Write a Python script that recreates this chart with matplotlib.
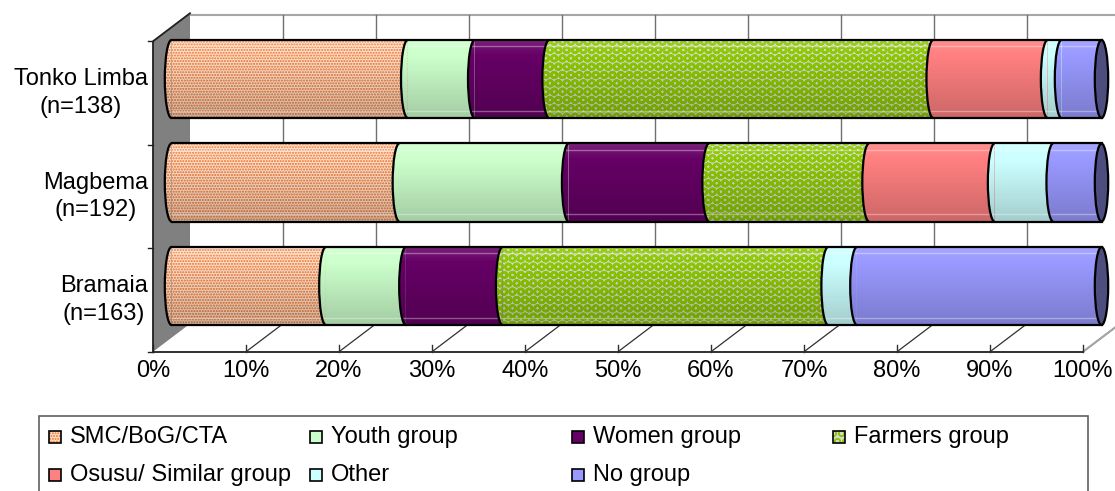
import numpy as np
import matplotlib as mpl
import matplotlib.pyplot as plt
from matplotlib.patches import Polygon, Rectangle, Ellipse, Arc

plt.rcParams['font.family'] = ['Liberation Sans', 'DejaVu Sans']

# data (percent of respondents), bottom row first
districts = ['Bramaia\n(n=163)', 'Magbema\n(n=192)', 'Tonko Limba\n(n=138)']
groups = ['SMC/BoG/CTA', 'Youth group', 'Women group', 'Farmers group',
          'Osusu/ Similar group', 'Other', 'No group']
bramaia = [16.6, 8.6, 10.4, 35.0, 0.0, 3.1, 26.3]
magbema = [24.5, 18.2, 15.1, 17.2, 13.5, 6.3, 5.2]
tonko = [25.4, 7.2, 8.0, 41.3, 12.3, 1.5, 4.3]
ticks = [0, 10, 20, 30, 40, 50, 60, 70, 80, 90, 100]
tick_labels = ['0%', '10%', '20%', '30%', '40%', '50%', '60%', '70%', '80%', '90%', '100%']

faces = ['#fde2cf', '#ccffcc', '#660066', '#d6d6d6', '#ff8080', '#ccffff', '#9999ff']
hatches = ['......', None, None, 'OO', None, None, None]
hatch_cols = ['#ee6c22', 'none', 'none', '#8cc800', 'none', 'none', 'none']
hatch_lw = [1.0, 1.0, 1.0, 1.8, 1.0, 1.0, 1.0]
cap_col = '#4d4d80'

vals = np.array([bramaia, magbema, tonko])
rows = np.arange(len(districts))

# pixel layout of the picture -> data units (x in %, y in rows)
PX, X0 = 9.3, 171.5
PY, Y0 = 103.5, 286.0
def X(px):
    return (px - X0) / PX
def Y(py):
    return (Y0 - py) / PY

DX, DY = 18.5 / PX, 14.0 / PY   # depth offset (front/back)
H = 0.754                        # bar thickness
RX = 0.72                        # half width of the cylinder ends

fig = plt.figure(figsize=(11.15, 4.91), dpi=100)
ax = fig.add_axes([0, 0, 1, 1])
ax.axis('off')

# back wall + gridlines
ax.add_patch(Rectangle((DX, -0.5 + DY), 100, 3, facecolor='white', edgecolor='none', zorder=0))
ax.plot([DX, 100 + DX], [2.5 + DY - 0.02] * 2, color='#a6a6a6', lw=1.5, zorder=1)
for t in ticks[1:]:
    ax.plot([t + DX, t + DX], [-0.5 + DY, 2.5 + DY - 0.02], color='#707070', lw=1, zorder=1)

# floor
for t in ticks[1:]:
    ax.plot([t - DX, t + DX], [-0.5 - DY, -0.5 + DY], color='#303030', lw=0.9, zorder=1)
ax.plot([100 - DX, 100 + DX], [-0.5 - DY, -0.5 + DY], color='#a6a6a6', lw=1.5, zorder=1)
ax.plot([-DX, 100 - DX], [-0.5 - DY, -0.5 - DY], color='#303030', lw=1.4, zorder=2)
for t in ticks:
    ax.plot([t - DX, t - DX], [-0.5 - DY, -0.5 - DY + 0.065], color='#303030', lw=1, zorder=2)

# left wall
ax.add_patch(Polygon([(-DX, -0.5 - DY), (-DX, 2.5 - DY), (DX, 2.5 + DY), (DX, -0.5 + DY)],
                     closed=True, facecolor='#808080', edgecolor='none', zorder=1))
ax.plot([DX, -DX, -DX], [2.5 + DY, 2.5 - DY, -0.5 - DY], color='#202020', lw=1.3, zorder=2)
for k in range(4):
    ax.plot([-DX - 0.55, -DX], [k - 0.5 - DY] * 2, color='#202020', lw=1, zorder=2)

# stacked cylinders
t_left = np.linspace(np.pi / 2, 3 * np.pi / 2, 40)
t_right = np.linspace(-np.pi / 2, np.pi / 2, 40)
lefts = np.zeros(len(rows))
for g in range(len(groups)):
    w = vals[:, g]
    with mpl.rc_context({'hatch.linewidth': hatch_lw[g]}):
        ax.barh(rows, w, left=lefts, height=H, color=faces[g], hatch=hatches[g],
                edgecolor=hatch_cols[g], lw=0, zorder=3)
        for r in rows:
            if w[r] <= 0:
                continue
            xs = lefts[r] + RX * np.cos(t_left)
            ys = r + H / 2 * np.sin(t_left)
            ax.add_patch(Polygon(np.column_stack([xs, ys]), closed=True, facecolor=faces[g],
                                 hatch=hatches[g], edgecolor=hatch_cols[g], lw=0, zorder=3))
    for r in rows:
        if w[r] > 0:
            ax.add_patch(Arc((lefts[r], r), 2 * RX, H, theta1=90, theta2=270,
                             color='black', lw=1.6, zorder=6))
    lefts = lefts + w

# shading: light band near the top, darker towards the bottom
n = 80
a = np.linspace(0, 1, n)
grad = np.zeros((n, 4, 4))
light = a < 0.2
grad[light, :, :3] = 1.0
grad[:, :, 3] = np.where(light, 0.14 * (1 - a / 0.2), 0.2 * (a - 0.2) / 0.8)[:, None]
for r in rows:
    sil = np.column_stack([
        np.concatenate([RX * np.cos(t_left), 100 + RX * np.cos(t_right)]),
        np.concatenate([r + H / 2 * np.sin(t_left), r + H / 2 * np.sin(t_right)])])
    clip = Polygon(sil, closed=True, transform=ax.transData)
    im = ax.imshow(grad, extent=[-1, 101, r - H / 2, r + H / 2], aspect='auto',
                   interpolation='nearest', origin='upper', zorder=4)
    im.set_clip_path(clip)
    ax.plot([0, 100], [r + H / 2 - 0.06] * 2, color='white', alpha=0.35, lw=1, zorder=5)
    ax.plot([0, 100], [r - H / 2 + 0.07] * 2, color='white', alpha=0.35, lw=1, zorder=5)
    ax.plot([0, 100], [r + H / 2] * 2, color='black', lw=1.6, zorder=6)
    ax.plot([0, 100], [r - H / 2] * 2, color='black', lw=1.6, zorder=6)
    ax.add_patch(Ellipse((100, r), 2 * RX, H, facecolor=cap_col, edgecolor='black',
                         lw=1.6, zorder=6))

# category and value labels
for r in rows:
    ax.text(X(148), r - DY, districts[r], ha='right', va='center', multialignment='center',
            fontsize=17, linespacing=1.3)
for t, lab in zip(ticks, tick_labels):
    ax.text(t - DX, Y(371), lab, ha='center', va='center', fontsize=17)

# legend box
ax.add_patch(Rectangle((X(39), Y(500)), X(1088) - X(39), Y(416) - Y(500), fill=False,
                       edgecolor='#606060', lw=1.2, zorder=2, clip_on=False))
col_px = [49, 310, 572, 833]
row_py = [437, 475]
for g, name in enumerate(groups):
    cx = col_px[g % 4]
    cy = row_py[g // 4]
    with mpl.rc_context({'hatch.linewidth': min(hatch_lw[g], 1.0)}):
        ax.add_patch(Rectangle((X(cx), Y(cy + 6)), 12 / PX, 12 / PY, facecolor=faces[g],
                               hatch=hatches[g], edgecolor=hatch_cols[g], lw=0, zorder=3))
    ax.add_patch(Rectangle((X(cx), Y(cy + 6)), 12 / PX, 12 / PY, fill=False,
                           edgecolor='black', lw=1.2, zorder=4))
    ax.text(X(cx + 21), Y(cy), name, ha='left', va='center', fontsize=17)

ax.set_xlim(X(0), X(1115))
ax.set_ylim(Y(491), Y(0))

plt.savefig('out.png', dpi=100)
